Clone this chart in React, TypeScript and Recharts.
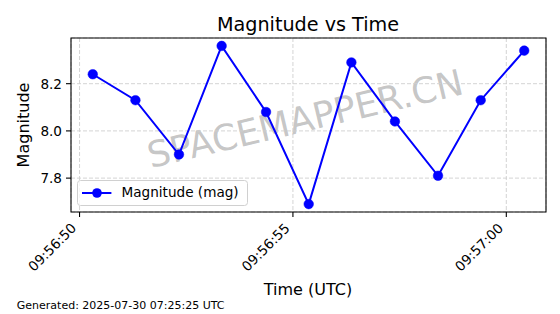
import React from "react";
import { LineChart, Line, XAxis, YAxis, CartesianGrid, ReferenceArea, Legend } from "recharts";

// seconds after 09:56:00 UTC
const times = [50.31, 51.31, 52.33, 53.33, 54.37, 55.37, 56.37, 57.39, 58.4, 59.4, 60.42];
const magnitudes = [8.24, 8.13, 7.9, 8.36, 8.08, 7.69, 8.29, 8.04, 7.81, 8.13, 8.34];
const xTicks = [50, 55, 60];
const yTicks = [7.8, 8.0, 8.2];
const xDomain: [number, number] = [49.8, 60.93];
const yDomain: [number, number] = [7.6565, 8.3935];

const rows = times.map((t, i) => ({ t, mag: magnitudes[i] }));

const FONT = "'DejaVu Sans', sans-serif";

const pad = (n: number) => String(n).padStart(2, "0");
const fmtTime = (s: number) => {
  const total = 9 * 3600 + 56 * 60 + Math.round(s);
  const h = Math.floor(total / 3600);
  const m = Math.floor((total % 3600) / 60);
  const sec = total % 60;
  return `${pad(h)}:${pad(m)}:${pad(sec)}`;
};

const XTick = (props: any) => {
  const { x, payload } = props;
  const ex = x - 2.3;
  const ey = 229;
  return (
    <text
      x={ex}
      y={ey}
      transform={`rotate(-45, ${ex}, ${ey})`}
      textAnchor="end"
      fontSize={13.6}
      fontFamily={FONT}
      fill="#000"
    >
      {fmtTime(payload.value)}
    </text>
  );
};

const LegendContent = () => (
  <svg width={172} height={27} style={{ display: "block" }}>
    <rect x={0.5} y={0.5} width={170} height={25} rx={3} ry={3} fill="rgba(255,255,255,0.8)" stroke="#d0d0d0" strokeWidth={1} />
    <line x1={5} y1={13} x2={34.4} y2={13} stroke="#0000ff" strokeWidth={2} />
    <circle cx={20} cy={13} r={4.8} fill="#0000ff" />
    <text x={44.5} y={17} fontSize={13.6} fontFamily={FONT} fill="#000">
      Magnitude (mag)
    </text>
  </svg>
);

export default function App() {
  return (
    <div style={{ position: "absolute", left: 0, top: 0, width: 560, height: 314, background: "#fff" }}>
      <svg width={560} height={314} style={{ position: "absolute", left: 0, top: 0 }}>
        <text
          x={308}
          y={131}
          transform="rotate(-13.3, 308, 131)"
          textAnchor="middle"
          fontSize={36}
          fontFamily={FONT}
          fill="#808080"
          fillOpacity={0.45}
        >
          SPACEMAPPER.CN
        </text>
      </svg>
      <div style={{ position: "absolute", left: 0, top: 0 }}>
        <LineChart width={560} height={314} data={rows} margin={{ top: 38, right: 14, bottom: 42, left: 0 }}>
          <CartesianGrid stroke="#cfcfcf" strokeDasharray="4 2" strokeWidth={0.9} />
          <XAxis
            dataKey="t"
            type="number"
            domain={xDomain}
            ticks={xTicks}
            allowDataOverflow
            height={60}
            axisLine={false}
            tickLine={{ stroke: "#000", strokeWidth: 1.1 }}
            tickSize={5}
            tick={<XTick />}
            interval={0}
          />
          <YAxis
            type="number"
            domain={yDomain}
            ticks={yTicks}
            allowDataOverflow
            width={71}
            axisLine={false}
            tickLine={{ stroke: "#000", strokeWidth: 1.1 }}
            tickSize={5}
            tickMargin={4}
            tickFormatter={(v: number) => v.toFixed(1)}
            tick={{ fill: "#000", fontSize: 13.6, fontFamily: FONT }}
            interval={0}
          />
          <ReferenceArea
            x1={xDomain[0]}
            x2={xDomain[1]}
            y1={yDomain[0]}
            y2={yDomain[1]}
            fill="none"
            fillOpacity={0}
            stroke="#000"
            strokeWidth={1.1}
          />
          <Line
            type="linear"
            dataKey="mag"
            name="Magnitude (mag)"
            stroke="#0000ff"
            strokeWidth={2}
            dot={{ r: 4.8, fill: "#0000ff", stroke: "#0000ff", strokeWidth: 0.5 }}
            activeDot={false}
            isAnimationActive={false}
          />
          <Legend
            layout="vertical"
            align="center"
            verticalAlign="middle"
            wrapperStyle={{ left: 77, top: 180, width: 172, height: 27 }}
            content={<LegendContent />}
          />
        </LineChart>
      </div>
      <svg width={560} height={314} style={{ position: "absolute", left: 0, top: 0, pointerEvents: "none" }}>
        <text x={308} y={31} textAnchor="middle" fontSize={19.2} fontFamily={FONT} fill="#000">
          Magnitude vs Time
        </text>
        <text
          x={28.5}
          y={125}
          transform="rotate(-90, 28.5, 125)"
          textAnchor="middle"
          fontSize={16}
          fontFamily={FONT}
          fill="#000"
        >
          Magnitude
        </text>
        <text x={308} y={295} textAnchor="middle" fontSize={16} fontFamily={FONT} fill="#000">
          Time (UTC)
        </text>
        <text x={16.8} y={308.5} fontSize={11} fontFamily={FONT} fill="#000">
          Generated: 2025-07-30 07:25:25 UTC
        </text>
      </svg>
    </div>
  );
}
